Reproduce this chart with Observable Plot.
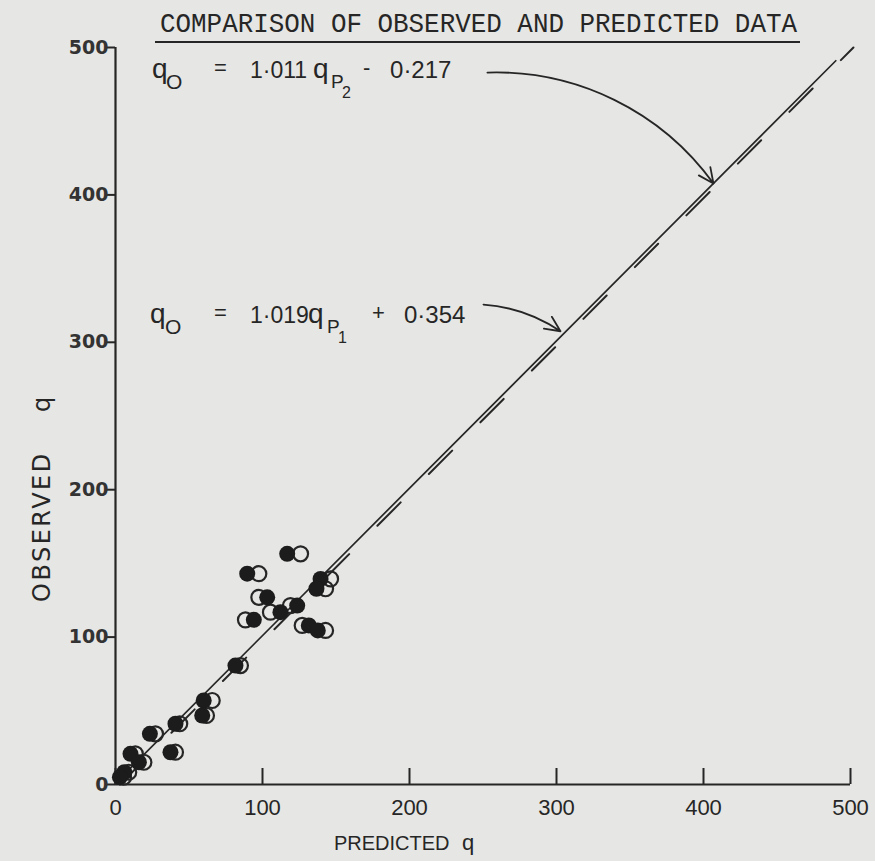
<!DOCTYPE html>
<html><head><meta charset="utf-8">
<script src="https://cdn.jsdelivr.net/npm/d3@7"></script>
<script src="https://cdn.jsdelivr.net/npm/@observablehq/plot@0.6"></script>
<style>
html,body{margin:0;padding:0;background:#e6e6e4;}
#chart{width:875px;height:861px;}
svg{display:block;}
</style></head><body><div id="chart"></div>
<script>
// ---------- data ----------
const observedQ   = [156.5, 143.0, 127.0, 111.7, 116.9, 121.4, 139.5, 132.8, 107.9, 104.5, 80.7, 57.0, 46.8, 41.2, 34.4, 21.9, 20.8, 15.1, 8.3, 5.0];
const predictedP1 = [116.8,  89.6, 103.2,  94.1, 112.2, 123.6, 139.5, 136.7, 131.5, 137.6, 81.6, 60.0, 59.0, 40.8, 23.4, 37.4, 10.2, 15.9, 6.0, 3.0];
const predictedP2 = [125.9,  97.5,  97.5,  88.4, 105.4, 119.0, 146.3, 142.9, 127.0, 142.9, 85.0, 65.8, 61.9, 43.7, 27.2, 40.8, 13.5, 19.3, 9.0, 5.5];

// fitted lines as drawn (two end points each)
const fitName = ["P1", "P1", "P2", "P2"];
const fitX    = [0, 490, 3, 502];
const fitY    = [1, 491, 0, 500];

const xTicks = [0, 100, 200, 300, 400, 500];
const yTicks = [0, 100, 200, 300, 400, 500];

const titleText = "COMPARISON OF OBSERVED AND PREDICTED DATA";
const xLabelText = ["PREDICTED", "q"];
const yLabelText = ["OBSERVED", "q"];

// equations: q_O = a q_P(k) ± b
const eqP2Parts = ["q", "O", "=", "1·011", "q", "P", "2", "-", "0·217"];
const eqP1Parts = ["q", "O", "=", "1·019", "q", "P", "1", "+", "0·354"];
const eqAnchorX = [25.2, 23.8];
const eqAnchorY = [479, 312.7];

// arrows from each equation to its line
const arrowFromX = [253, 250.3];
const arrowFromY = [483, 325.6];
const arrowToX   = [406.8, 302.7];
const arrowToY   = [407.7, 307.5];

// ---------- build tables ----------
const points = observedQ.map((o, i) => ({obs: o, p1: predictedP1[i], p2: predictedP2[i]}));
const fits = fitX.map((x, i) => ({name: fitName[i], x, y: fitY[i]}));
const arrows = arrowFromX.map((x1, i) => ({x1, y1: arrowFromY[i], x2: arrowToX[i], y2: arrowToY[i]}));

const ink = "#262626";
const dotInk = "#1c1c1c";

const plot = Plot.plot({
  width: 875, height: 861,
  marginLeft: 115, marginRight: 25, marginTop: 47, marginBottom: 77,
  style: {background: "transparent", color: ink, overflow: "visible"},
  x: {domain: [0, 500], label: null},
  y: {domain: [0, 500], label: null},
  marks: [
    Plot.axisY(yTicks, {tickSize: 8, tickPadding: -1, fontSize: 19, fontWeight: "bold", fontFamily: "DejaVu Sans", fill: "#333", stroke: ink, strokeWidth: 2, label: null}),
    Plot.axisX(xTicks, {tickSize: -16, tickPadding: 31, fontSize: 22, fontFamily: "Liberation Sans", fill: ink, stroke: ink, strokeWidth: 2, label: null}),
    Plot.ruleX([0], {stroke: ink, strokeWidth: 2.2}),
    Plot.ruleY([0], {stroke: ink, strokeWidth: 2.2}),
    Plot.line(fits.filter(d => d.name === "P2"), {x: "x", y: "y", stroke: ink, strokeWidth: 2, strokeDasharray: "33,40"}),
    Plot.line(fits.filter(d => d.name === "P1"), {x: "x", y: "y", stroke: ink, strokeWidth: 1.7}),
    Plot.dot(points, {x: "p2", y: "obs", r: 7.5, fill: "none", stroke: ink, strokeWidth: 2.2}),
    Plot.dot(points, {x: "p1", y: "obs", r: 8, fill: dotInk, stroke: "none"}),
    Plot.arrow(arrows.slice(0, 1), {x1: "x1", y1: "y1", x2: "x2", y2: "y2", bend: 28, stroke: ink, strokeWidth: 1.8, headLength: 14, headAngle: 50}),
    Plot.arrow(arrows.slice(1, 2), {x1: "x1", y1: "y1", x2: "x2", y2: "y2", bend: 15, stroke: ink, strokeWidth: 1.8, headLength: 14, headAngle: 50})
  ]
});

const svg = d3.select(plot);
const sx = plot.scale("x"), sy = plot.scale("y");

// title with underline
svg.append("text")
  .attr("x", 160).attr("y", 32)
  .attr("text-anchor", "start")
  .attr("font-family", "Liberation Mono, DejaVu Sans Mono, monospace")
  .attr("font-size", 27)
  .attr("textLength", 637).attr("lengthAdjust", "spacingAndGlyphs")
  .attr("fill", ink).text(titleText);
svg.append("line").attr("x1", 155).attr("x2", 800).attr("y1", 42).attr("y2", 42)
  .attr("stroke", ink).attr("stroke-width", 2);

// axis labels
svg.append("text").attr("x", 334).attr("y", 850).attr("text-anchor", "start")
  .attr("font-family", "Liberation Sans").attr("font-size", 20).attr("fill", ink).text(xLabelText[0]);
svg.append("text").attr("x", 462).attr("y", 850).attr("text-anchor", "start")
  .attr("font-family", "Liberation Sans").attr("font-size", 22).attr("fill", ink).text(xLabelText[1]);
const yl = svg.append("g").attr("transform", "translate(50,602) rotate(-90)");
const ylt = yl.append("text").attr("text-anchor", "start").attr("font-family", "DejaVu Sans").attr("font-size", 24).attr("fill", ink).attr("letter-spacing", 2.5);
ylt.append("tspan").attr("x", 0).text(yLabelText[0]);
ylt.append("tspan").attr("x", 190).text(yLabelText[1]);

// equations
const eqLayouts = [
  [{dx: 0, dy: 0, s: 28}, {dx: 14, dy: 11, s: 21}, {dx: 62, dy: -3, s: 22}, {dx: 98, dy: 0, s: 23}, {dx: 161, dy: 0, s: 28},
   {dx: 179, dy: 10, s: 19}, {dx: 190, dy: 20, s: 16}, {dx: 211, dy: -3, s: 22}, {dx: 238, dy: 0, s: 24}],
  [{dx: 0, dy: 0, s: 28}, {dx: 15, dy: 11, s: 21}, {dx: 64, dy: -3, s: 22}, {dx: 100, dy: 0, s: 23}, {dx: 158, dy: 0, s: 28},
   {dx: 177, dy: 10, s: 19}, {dx: 188, dy: 20, s: 16}, {dx: 222, dy: -3, s: 22}, {dx: 254, dy: 0, s: 24}]
];
[eqP2Parts, eqP1Parts].forEach((parts, k) => {
  const px = sx.apply(eqAnchorX[k]), py = sy.apply(eqAnchorY[k]);
  const t = svg.append("text").attr("text-anchor", "start").attr("font-family", "Liberation Sans, sans-serif").attr("fill", ink);
  parts.forEach((s, i) => {
    const L = eqLayouts[k][i];
    t.append("tspan").attr("x", px + L.dx).attr("y", py + L.dy).attr("font-size", L.s).text(s);
  });
});

document.getElementById("chart").appendChild(plot);
</script>
</body></html>
